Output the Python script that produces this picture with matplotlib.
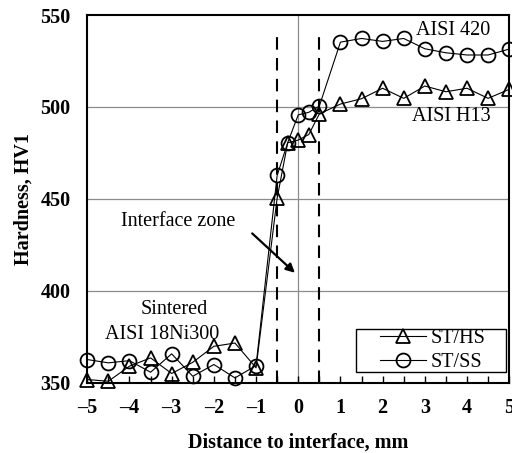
import numpy as np
from matplotlib import pyplot as plt
from matplotlib.ticker import MultipleLocator
from matplotlib.patches import Rectangle

plt.rcParams['font.family'] = ['Liberation Serif', 'DejaVu Serif']

# data
x_pos = [-5, -4.5, -4, -3.5, -3, -2.5, -2, -1.5, -1, -0.5, -0.25, 0, 0.25, 0.5,
         1, 1.5, 2, 2.5, 3, 3.5, 4, 4.5, 5]
hv_st_hs = [351.6, 350.7, 358.9, 363.4, 354.9, 361.0, 369.7, 371.5, 358.0, 450.4,
            480.5, 482.0, 485.0, 496.2, 501.6, 504.5, 510.2, 504.7, 511.4, 508.3,
            510.2, 504.7, 509.6]
hv_st_ss = [362.5, 360.7, 361.9, 355.6, 365.6, 353.4, 359.8, 352.5, 359.2, 462.7,
            480.6, 495.7, 497.1, 500.5, 535.3, 537.3, 535.7, 537.3, 531.7, 529.5,
            528.3, 528.3, 531.5]
zone_edges = [-0.5, 0.5]

fs = 14.5

fig = plt.figure(figsize=(5.12, 4.53), dpi=100)
ax = fig.add_axes([0.1705, 0.1556, 0.824, 0.811])

# grid
for yv in [400, 450, 500]:
    ax.axhline(yv, color='#8c8c8c', lw=0.9, zorder=0)
ax.axvline(0, color='#8c8c8c', lw=0.9, zorder=0)

# interface zone boundaries
for xe in zone_edges:
    ax.plot([xe, xe], [350, 538], color='black', lw=1.5, ls=(0, (6, 4)), zorder=1)

ax.plot(x_pos, hv_st_hs, color='black', lw=0.8, marker='^', ms=9.5,
        mfc='none', mec='black', mew=1.3, label='ST/HS', clip_on=False, zorder=3)
ax.plot(x_pos, hv_st_ss, color='black', lw=0.8, marker='o', ms=10,
        mfc='none', mec='black', mew=1.3, label='ST/SS', clip_on=False, zorder=3)

ax.set_xlim(-5, 5)
ax.set_ylim(350, 550)
ax.xaxis.set_major_locator(MultipleLocator(1))
ax.xaxis.set_minor_locator(MultipleLocator(0.5))
ax.yaxis.set_major_locator(MultipleLocator(50))
ax.tick_params(axis='x', which='both', direction='in', length=5, width=1,
               labelsize=fs, pad=11)
ax.tick_params(axis='y', length=0, labelsize=fs, pad=12)
ax.set_xticklabels([('\u2013' + str(abs(int(v)))) if v < 0 else str(int(v))
                    for v in ax.get_xticks()], fontweight='bold')
for lab in ax.get_yticklabels():
    lab.set_fontweight('bold')
for s in ax.spines.values():
    s.set_linewidth(1.5)

ax.set_xlabel('Distance to interface, mm', fontsize=fs, fontweight='bold', labelpad=11)
ax.set_ylabel('Hardness, HV1', fontsize=fs, fontweight='bold', labelpad=5)

ax.text(3.67, 541.8, 'AISI 420', fontsize=fs, ha='center', va='center')
ax.text(3.64, 495, 'AISI H13', fontsize=fs, ha='center', va='center')
ax.text(-2.84, 437.7, 'Interface zone', fontsize=fs, ha='center', va='center')
ax.text(-2.94, 390, 'Sintered', fontsize=fs, ha='center', va='center')
ax.text(-3.23, 376, 'AISI 18Ni300', fontsize=fs, ha='center', va='center')
ax.annotate('', xy=(-0.03, 408.7), xytext=(-1.14, 432.2),
            arrowprops=dict(arrowstyle='-|>', color='black', lw=1.6,
                            mutation_scale=13))

# legend box (wider than the entries, as in the original)
ax.add_patch(Rectangle((0.637, 0.029), 0.355, 0.117, transform=ax.transAxes,
                       fill=True, facecolor='white', edgecolor='black',
                       lw=1.0, zorder=4))
leg = ax.legend(loc='center', bbox_to_anchor=(0.8185, 0.0875), fontsize=fs,
                frameon=False, handlelength=2.3, borderpad=0,
                labelspacing=0.22, handletextpad=0.2, borderaxespad=0)
leg.set_zorder(5)

plt.savefig('out.png', dpi=100)
plt.close()
